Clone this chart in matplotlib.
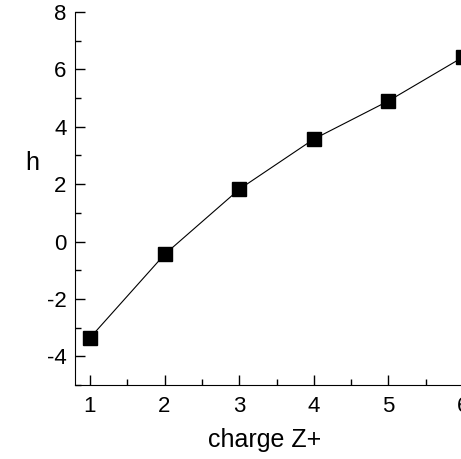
import matplotlib
matplotlib.use("Agg")
import matplotlib.pyplot as plt
from matplotlib.ticker import MultipleLocator

plt.rcParams['font.family'] = ['Liberation Sans', 'DejaVu Sans']
plt.rcParams['axes.unicode_minus'] = False

charge = [1, 2, 3, 4, 5, 6]
h = [-3.36, -0.45, 1.82, 3.57, 4.90, 6.43]

fig = plt.figure(figsize=(4.61, 4.59), dpi=100)
ax = fig.add_axes([75/461, 1 - 385/459, 403/461, (385 - 12)/459])
ax.plot(charge, h, color='black', lw=0.8, marker='s', markersize=10,
        markerfacecolor='black', markeredgecolor='black', clip_on=False)
ax.set_xlim(0.8, 6.2)
ax.set_ylim(-5, 8)
ax.xaxis.set_major_locator(MultipleLocator(1))
ax.xaxis.set_minor_locator(MultipleLocator(0.5))
ax.yaxis.set_major_locator(MultipleLocator(2))
ax.yaxis.set_minor_locator(MultipleLocator(1))
ax.spines['top'].set_visible(False)
ax.spines['right'].set_visible(False)
ax.tick_params(which='both', direction='in', labelsize=16, width=1)
ax.tick_params(axis='x', pad=8)
ax.tick_params(axis='y', pad=6)
ax.tick_params(which='major', length=7)
ax.tick_params(which='minor', length=4)
ax.set_xticks([1, 2, 3, 4, 5, 6])
ax.set_yticks([-4, -2, 0, 2, 4, 6, 8])
ax.set_xlabel('charge Z+', fontsize=18)
ax.xaxis.set_label_coords((265 - 75) / 403, -(440 - 385) / 373)
ax.xaxis.label.set_va('center')
ax.set_ylabel('h', fontsize=18, rotation=0, va='center', ha='center')
ax.yaxis.set_label_coords((32 - 75) / 403, (385 - 163) / 373)
fig.savefig('out.png', dpi=100)
